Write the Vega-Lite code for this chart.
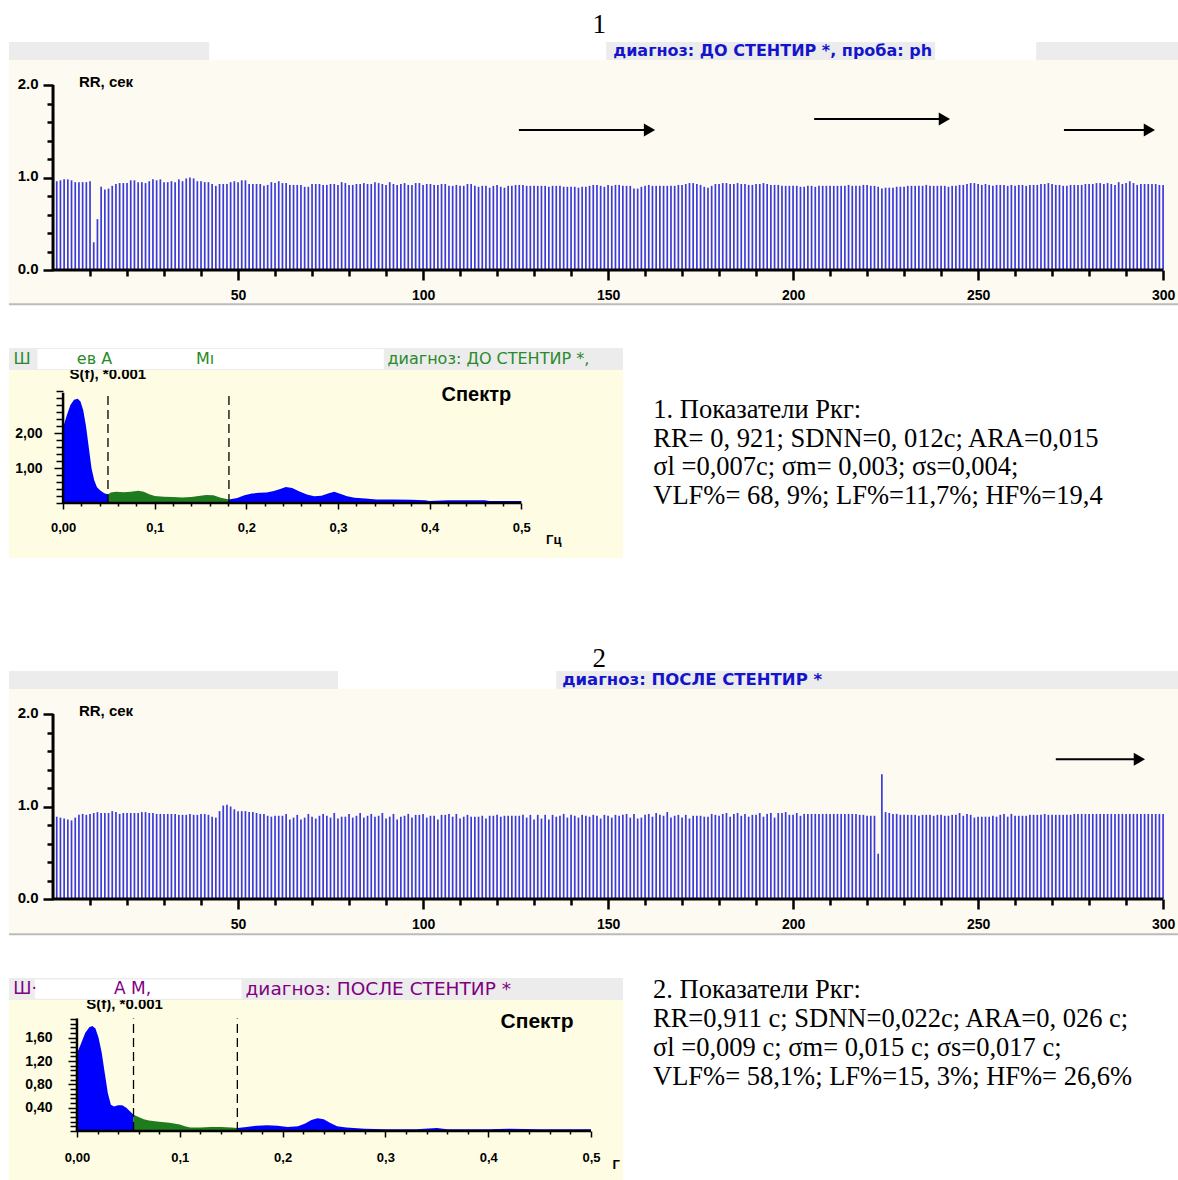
{
"$schema":"https://vega.github.io/schema/vega-lite/v6.json",
"padding":{"left":8,"top":0,"right":0,"bottom":0},
"background":"white",
"config":{"view":{"stroke":null},"font":"Liberation Sans","axis":{"labelOverlap":false,"zindex":1,"title":null,"grid":false,"domain":false,"tickColor":"black","labelColor":"black","labelFont":"Liberation Sans","labelFontWeight":"bold"}},
"datasets":{
"one":[{}],
"rr1":[{"i":1,"v":0.96},{"i":2,"v":0.97},{"i":3,"v":0.98},{"i":4,"v":0.98},{"i":5,"v":0.97},{"i":6,"v":0.95},{"i":7,"v":0.95},{"i":8,"v":0.95},{"i":9,"v":0.95},{"i":10,"v":0.96},
{"i":11,"v":0.30},{"i":12,"v":0.55},{"i":13,"v":0.90},{"i":14,"v":0.87},{"i":15,"v":0.88},{"i":16,"v":0.91},{"i":17,"v":0.93},{"i":18,"v":0.94},{"i":19,"v":0.94},{"i":20,"v":0.94},
{"i":21,"v":0.97},{"i":22,"v":0.97},{"i":23,"v":0.95},{"i":24,"v":0.95},{"i":25,"v":0.94},{"i":26,"v":0.96},{"i":27,"v":0.98},{"i":28,"v":0.97},{"i":29,"v":0.98},{"i":30,"v":0.95},
{"i":31,"v":0.95},{"i":32,"v":0.96},{"i":33,"v":0.95},{"i":34,"v":0.98},{"i":35,"v":0.96},{"i":36,"v":0.99},{"i":37,"v":1.00},{"i":38,"v":0.99},{"i":39,"v":0.96},{"i":40,"v":0.96},
{"i":41,"v":0.95},{"i":42,"v":0.95},{"i":43,"v":0.93},{"i":44,"v":0.91},{"i":45,"v":0.93},{"i":46,"v":0.93},{"i":47,"v":0.93},{"i":48,"v":0.95},{"i":49,"v":0.96},{"i":50,"v":0.95},
{"i":51,"v":0.97},{"i":52,"v":0.97},{"i":53,"v":0.93},{"i":54,"v":0.93},{"i":55,"v":0.93},{"i":56,"v":0.93},{"i":57,"v":0.91},{"i":58,"v":0.92},{"i":59,"v":0.95},{"i":60,"v":0.94},
{"i":61,"v":0.96},{"i":62,"v":0.94},{"i":63,"v":0.94},{"i":64,"v":0.92},{"i":65,"v":0.92},{"i":66,"v":0.92},{"i":67,"v":0.92},{"i":68,"v":0.90},{"i":69,"v":0.90},{"i":70,"v":0.93},
{"i":71,"v":0.93},{"i":72,"v":0.93},{"i":73,"v":0.92},{"i":74,"v":0.92},{"i":75,"v":0.93},{"i":76,"v":0.93},{"i":77,"v":0.92},{"i":78,"v":0.95},{"i":79,"v":0.94},{"i":80,"v":0.92},
{"i":81,"v":0.92},{"i":82,"v":0.93},{"i":83,"v":0.93},{"i":84,"v":0.94},{"i":85,"v":0.93},{"i":86,"v":0.93},{"i":87,"v":0.95},{"i":88,"v":0.94},{"i":89,"v":0.93},{"i":90,"v":0.92},
{"i":91,"v":0.95},{"i":92,"v":0.93},{"i":93,"v":0.92},{"i":94,"v":0.93},{"i":95,"v":0.94},{"i":96,"v":0.92},{"i":97,"v":0.92},{"i":98,"v":0.94},{"i":99,"v":0.94},{"i":100,"v":0.92},
{"i":101,"v":0.93},{"i":102,"v":0.93},{"i":103,"v":0.92},{"i":104,"v":0.92},{"i":105,"v":0.93},{"i":106,"v":0.93},{"i":107,"v":0.91},{"i":108,"v":0.91},{"i":109,"v":0.92},{"i":110,"v":0.91},
{"i":111,"v":0.91},{"i":112,"v":0.93},{"i":113,"v":0.93},{"i":114,"v":0.91},{"i":115,"v":0.90},{"i":116,"v":0.91},{"i":117,"v":0.91},{"i":118,"v":0.89},{"i":119,"v":0.91},{"i":120,"v":0.92},
{"i":121,"v":0.90},{"i":122,"v":0.89},{"i":123,"v":0.91},{"i":124,"v":0.91},{"i":125,"v":0.92},{"i":126,"v":0.92},{"i":127,"v":0.92},{"i":128,"v":0.91},{"i":129,"v":0.91},{"i":130,"v":0.91},
{"i":131,"v":0.91},{"i":132,"v":0.91},{"i":133,"v":0.91},{"i":134,"v":0.90},{"i":135,"v":0.91},{"i":136,"v":0.91},{"i":137,"v":0.91},{"i":138,"v":0.90},{"i":139,"v":0.90},{"i":140,"v":0.90},
{"i":141,"v":0.90},{"i":142,"v":0.89},{"i":143,"v":0.90},{"i":144,"v":0.90},{"i":145,"v":0.91},{"i":146,"v":0.92},{"i":147,"v":0.92},{"i":148,"v":0.91},{"i":149,"v":0.90},{"i":150,"v":0.92},
{"i":151,"v":0.91},{"i":152,"v":0.92},{"i":153,"v":0.92},{"i":154,"v":0.91},{"i":155,"v":0.91},{"i":156,"v":0.91},{"i":157,"v":0.88},{"i":158,"v":0.88},{"i":159,"v":0.90},{"i":160,"v":0.91},
{"i":161,"v":0.92},{"i":162,"v":0.91},{"i":163,"v":0.91},{"i":164,"v":0.91},{"i":165,"v":0.91},{"i":166,"v":0.91},{"i":167,"v":0.91},{"i":168,"v":0.91},{"i":169,"v":0.92},{"i":170,"v":0.92},
{"i":171,"v":0.93},{"i":172,"v":0.94},{"i":173,"v":0.94},{"i":174,"v":0.93},{"i":175,"v":0.92},{"i":176,"v":0.90},{"i":177,"v":0.89},{"i":178,"v":0.91},{"i":179,"v":0.93},{"i":180,"v":0.93},
{"i":181,"v":0.94},{"i":182,"v":0.94},{"i":183,"v":0.93},{"i":184,"v":0.93},{"i":185,"v":0.94},{"i":186,"v":0.93},{"i":187,"v":0.93},{"i":188,"v":0.92},{"i":189,"v":0.92},{"i":190,"v":0.93},
{"i":191,"v":0.93},{"i":192,"v":0.94},{"i":193,"v":0.93},{"i":194,"v":0.92},{"i":195,"v":0.92},{"i":196,"v":0.92},{"i":197,"v":0.91},{"i":198,"v":0.91},{"i":199,"v":0.91},{"i":200,"v":0.91},
{"i":201,"v":0.91},{"i":202,"v":0.90},{"i":203,"v":0.90},{"i":204,"v":0.91},{"i":205,"v":0.91},{"i":206,"v":0.90},{"i":207,"v":0.91},{"i":208,"v":0.91},{"i":209,"v":0.91},{"i":210,"v":0.91},
{"i":211,"v":0.91},{"i":212,"v":0.91},{"i":213,"v":0.91},{"i":214,"v":0.91},{"i":215,"v":0.92},{"i":216,"v":0.91},{"i":217,"v":0.91},{"i":218,"v":0.91},{"i":219,"v":0.92},{"i":220,"v":0.92},
{"i":221,"v":0.91},{"i":222,"v":0.91},{"i":223,"v":0.90},{"i":224,"v":0.88},{"i":225,"v":0.89},{"i":226,"v":0.89},{"i":227,"v":0.89},{"i":228,"v":0.90},{"i":229,"v":0.90},{"i":230,"v":0.90},
{"i":231,"v":0.91},{"i":232,"v":0.91},{"i":233,"v":0.91},{"i":234,"v":0.91},{"i":235,"v":0.91},{"i":236,"v":0.92},{"i":237,"v":0.91},{"i":238,"v":0.91},{"i":239,"v":0.91},{"i":240,"v":0.91},
{"i":241,"v":0.91},{"i":242,"v":0.90},{"i":243,"v":0.91},{"i":244,"v":0.91},{"i":245,"v":0.92},{"i":246,"v":0.92},{"i":247,"v":0.93},{"i":248,"v":0.94},{"i":249,"v":0.94},{"i":250,"v":0.93},
{"i":251,"v":0.92},{"i":252,"v":0.93},{"i":253,"v":0.92},{"i":254,"v":0.91},{"i":255,"v":0.92},{"i":256,"v":0.92},{"i":257,"v":0.92},{"i":258,"v":0.91},{"i":259,"v":0.92},{"i":260,"v":0.91},
{"i":261,"v":0.92},{"i":262,"v":0.92},{"i":263,"v":0.91},{"i":264,"v":0.92},{"i":265,"v":0.92},{"i":266,"v":0.92},{"i":267,"v":0.93},{"i":268,"v":0.93},{"i":269,"v":0.94},{"i":270,"v":0.93},
{"i":271,"v":0.92},{"i":272,"v":0.92},{"i":273,"v":0.91},{"i":274,"v":0.91},{"i":275,"v":0.92},{"i":276,"v":0.92},{"i":277,"v":0.92},{"i":278,"v":0.92},{"i":279,"v":0.93},{"i":280,"v":0.93},
{"i":281,"v":0.93},{"i":282,"v":0.94},{"i":283,"v":0.94},{"i":284,"v":0.93},{"i":285,"v":0.94},{"i":286,"v":0.93},{"i":287,"v":0.92},{"i":288,"v":0.95},{"i":289,"v":0.93},{"i":290,"v":0.94},
{"i":291,"v":0.96},{"i":292,"v":0.94},{"i":293,"v":0.92},{"i":294,"v":0.93},{"i":295,"v":0.93},{"i":296,"v":0.93},{"i":297,"v":0.93},{"i":298,"v":0.93},{"i":299,"v":0.92},{"i":300,"v":0.92}],
"rr2":[{"i":1,"v":0.89},{"i":2,"v":0.88},{"i":3,"v":0.87},{"i":4,"v":0.86},{"i":5,"v":0.85},{"i":6,"v":0.88},{"i":7,"v":0.91},{"i":8,"v":0.92},{"i":9,"v":0.91},{"i":10,"v":0.92},
{"i":11,"v":0.93},{"i":12,"v":0.94},{"i":13,"v":0.93},{"i":14,"v":0.93},{"i":15,"v":0.93},{"i":16,"v":0.95},{"i":17,"v":0.94},{"i":18,"v":0.92},{"i":19,"v":0.93},{"i":20,"v":0.93},
{"i":21,"v":0.93},{"i":22,"v":0.93},{"i":23,"v":0.93},{"i":24,"v":0.94},{"i":25,"v":0.94},{"i":26,"v":0.93},{"i":27,"v":0.93},{"i":28,"v":0.92},{"i":29,"v":0.92},{"i":30,"v":0.92},
{"i":31,"v":0.92},{"i":32,"v":0.92},{"i":33,"v":0.92},{"i":34,"v":0.91},{"i":35,"v":0.91},{"i":36,"v":0.91},{"i":37,"v":0.92},{"i":38,"v":0.91},{"i":39,"v":0.91},{"i":40,"v":0.92},
{"i":41,"v":0.92},{"i":42,"v":0.91},{"i":43,"v":0.89},{"i":44,"v":0.88},{"i":45,"v":0.95},{"i":46,"v":1.01},{"i":47,"v":1.02},{"i":48,"v":1.00},{"i":49,"v":0.97},{"i":50,"v":0.95},
{"i":51,"v":0.95},{"i":52,"v":0.95},{"i":53,"v":0.94},{"i":54,"v":0.94},{"i":55,"v":0.93},{"i":56,"v":0.92},{"i":57,"v":0.92},{"i":58,"v":0.90},{"i":59,"v":0.89},{"i":60,"v":0.90},
{"i":61,"v":0.90},{"i":62,"v":0.90},{"i":63,"v":0.92},{"i":64,"v":0.86},{"i":65,"v":0.88},{"i":66,"v":0.91},{"i":67,"v":0.86},{"i":68,"v":0.88},{"i":69,"v":0.92},{"i":70,"v":0.89},
{"i":71,"v":0.87},{"i":72,"v":0.90},{"i":73,"v":0.92},{"i":74,"v":0.90},{"i":75,"v":0.88},{"i":76,"v":0.93},{"i":77,"v":0.87},{"i":78,"v":0.89},{"i":79,"v":0.89},{"i":80,"v":0.92},
{"i":81,"v":0.88},{"i":82,"v":0.90},{"i":83,"v":0.93},{"i":84,"v":0.88},{"i":85,"v":0.90},{"i":86,"v":0.92},{"i":87,"v":0.89},{"i":88,"v":0.90},{"i":89,"v":0.93},{"i":90,"v":0.87},
{"i":91,"v":0.89},{"i":92,"v":0.92},{"i":93,"v":0.86},{"i":94,"v":0.89},{"i":95,"v":0.90},{"i":96,"v":0.92},{"i":97,"v":0.88},{"i":98,"v":0.91},{"i":99,"v":0.91},{"i":100,"v":0.92},
{"i":101,"v":0.88},{"i":102,"v":0.90},{"i":103,"v":0.90},{"i":104,"v":0.86},{"i":105,"v":0.91},{"i":106,"v":0.91},{"i":107,"v":0.92},{"i":108,"v":0.89},{"i":109,"v":0.92},{"i":110,"v":0.87},
{"i":111,"v":0.89},{"i":112,"v":0.91},{"i":113,"v":0.89},{"i":114,"v":0.89},{"i":115,"v":0.89},{"i":116,"v":0.90},{"i":117,"v":0.87},{"i":118,"v":0.90},{"i":119,"v":0.90},{"i":120,"v":0.91},
{"i":121,"v":0.89},{"i":122,"v":0.90},{"i":123,"v":0.90},{"i":124,"v":0.90},{"i":125,"v":0.90},{"i":126,"v":0.90},{"i":127,"v":0.91},{"i":128,"v":0.88},{"i":129,"v":0.91},{"i":130,"v":0.86},
{"i":131,"v":0.91},{"i":132,"v":0.87},{"i":133,"v":0.91},{"i":134,"v":0.86},{"i":135,"v":0.91},{"i":136,"v":0.89},{"i":137,"v":0.90},{"i":138,"v":0.92},{"i":139,"v":0.88},{"i":140,"v":0.91},
{"i":141,"v":0.90},{"i":142,"v":0.88},{"i":143,"v":0.91},{"i":144,"v":0.90},{"i":145,"v":0.89},{"i":146,"v":0.91},{"i":147,"v":0.90},{"i":148,"v":0.87},{"i":149,"v":0.91},{"i":150,"v":0.90},
{"i":151,"v":0.88},{"i":152,"v":0.91},{"i":153,"v":0.90},{"i":154,"v":0.91},{"i":155,"v":0.92},{"i":156,"v":0.88},{"i":157,"v":0.92},{"i":158,"v":0.87},{"i":159,"v":0.88},{"i":160,"v":0.91},
{"i":161,"v":0.92},{"i":162,"v":0.89},{"i":163,"v":0.93},{"i":164,"v":0.91},{"i":165,"v":0.90},{"i":166,"v":0.94},{"i":167,"v":0.88},{"i":168,"v":0.90},{"i":169,"v":0.91},{"i":170,"v":0.88},
{"i":171,"v":0.91},{"i":172,"v":0.87},{"i":173,"v":0.90},{"i":174,"v":0.90},{"i":175,"v":0.90},{"i":176,"v":0.89},{"i":177,"v":0.89},{"i":178,"v":0.92},{"i":179,"v":0.91},{"i":180,"v":0.90},
{"i":181,"v":0.92},{"i":182,"v":0.93},{"i":183,"v":0.89},{"i":184,"v":0.92},{"i":185,"v":0.93},{"i":186,"v":0.90},{"i":187,"v":0.92},{"i":188,"v":0.89},{"i":189,"v":0.91},{"i":190,"v":0.91},
{"i":191,"v":0.93},{"i":192,"v":0.89},{"i":193,"v":0.92},{"i":194,"v":0.93},{"i":195,"v":0.88},{"i":196,"v":0.93},{"i":197,"v":0.93},{"i":198,"v":0.94},{"i":199,"v":0.91},{"i":200,"v":0.91},
{"i":201,"v":0.93},{"i":202,"v":0.90},{"i":203,"v":0.92},{"i":204,"v":0.92},{"i":205,"v":0.92},{"i":206,"v":0.92},{"i":207,"v":0.92},{"i":208,"v":0.92},{"i":209,"v":0.92},{"i":210,"v":0.92},
{"i":211,"v":0.92},{"i":212,"v":0.92},{"i":213,"v":0.92},{"i":214,"v":0.92},{"i":215,"v":0.92},{"i":216,"v":0.92},{"i":217,"v":0.92},{"i":218,"v":0.91},{"i":219,"v":0.91},{"i":220,"v":0.90},
{"i":221,"v":0.90},{"i":222,"v":0.90},{"i":223,"v":0.49},{"i":224,"v":1.35},{"i":225,"v":0.94},{"i":226,"v":0.93},{"i":227,"v":0.92},{"i":228,"v":0.92},{"i":229,"v":0.91},{"i":230,"v":0.91},
{"i":231,"v":0.91},{"i":232,"v":0.91},{"i":233,"v":0.91},{"i":234,"v":0.90},{"i":235,"v":0.91},{"i":236,"v":0.91},{"i":237,"v":0.91},{"i":238,"v":0.90},{"i":239,"v":0.91},{"i":240,"v":0.91},
{"i":241,"v":0.90},{"i":242,"v":0.90},{"i":243,"v":0.91},{"i":244,"v":0.91},{"i":245,"v":0.93},{"i":246,"v":0.90},{"i":247,"v":0.92},{"i":248,"v":0.91},{"i":249,"v":0.88},{"i":250,"v":0.89},
{"i":251,"v":0.89},{"i":252,"v":0.89},{"i":253,"v":0.89},{"i":254,"v":0.90},{"i":255,"v":0.89},{"i":256,"v":0.91},{"i":257,"v":0.92},{"i":258,"v":0.89},{"i":259,"v":0.92},{"i":260,"v":0.90},
{"i":261,"v":0.90},{"i":262,"v":0.90},{"i":263,"v":0.90},{"i":264,"v":0.91},{"i":265,"v":0.91},{"i":266,"v":0.91},{"i":267,"v":0.91},{"i":268,"v":0.92},{"i":269,"v":0.91},{"i":270,"v":0.91},
{"i":271,"v":0.91},{"i":272,"v":0.91},{"i":273,"v":0.91},{"i":274,"v":0.91},{"i":275,"v":0.91},{"i":276,"v":0.92},{"i":277,"v":0.92},{"i":278,"v":0.92},{"i":279,"v":0.92},{"i":280,"v":0.92},
{"i":281,"v":0.92},{"i":282,"v":0.92},{"i":283,"v":0.92},{"i":284,"v":0.92},{"i":285,"v":0.92},{"i":286,"v":0.92},{"i":287,"v":0.92},{"i":288,"v":0.92},{"i":289,"v":0.92},{"i":290,"v":0.92},
{"i":291,"v":0.92},{"i":292,"v":0.92},{"i":293,"v":0.92},{"i":294,"v":0.92},{"i":295,"v":0.92},{"i":296,"v":0.92},{"i":297,"v":0.92},{"i":298,"v":0.92},{"i":299,"v":0.92},{"i":300,"v":0.92}],
"sp1":[{"f":0,"s":2.15,"b":"VLF"},{"f":0.004,"s":2.5,"b":"VLF"},{"f":0.008,"s":2.8,"b":"VLF"},{"f":0.012,"s":2.95,"b":"VLF"},{"f":0.016,"s":2.98,"b":"VLF"},{"f":0.019,"s":2.9,"b":"VLF"},{"f":0.022,"s":2.65,"b":"VLF"},{"f":0.025,"s":2.2,"b":"VLF"},{"f":0.028,"s":1.6,"b":"VLF"},{"f":0.031,"s":1.0,"b":"VLF"},{"f":0.034,"s":0.65,"b":"VLF"},{"f":0.037,"s":0.45,"b":"VLF"},{"f":0.041,"s":0.35,"b":"VLF"},{"f":0.045,"s":0.28,"b":"VLF"},{"f":0.049,"s":0.24,"b":"VLF"},
{"f":0.049,"s":0.24,"b":"LF"},{"f":0.052,"s":0.3,"b":"LF"},{"f":0.058,"s":0.32,"b":"LF"},{"f":0.066,"s":0.31,"b":"LF"},{"f":0.074,"s":0.32,"b":"LF"},{"f":0.082,"s":0.35,"b":"LF"},{"f":0.088,"s":0.32,"b":"LF"},{"f":0.094,"s":0.25,"b":"LF"},{"f":0.1,"s":0.2,"b":"LF"},{"f":0.11,"s":0.18,"b":"LF"},{"f":0.12,"s":0.17,"b":"LF"},{"f":0.13,"s":0.16,"b":"LF"},{"f":0.14,"s":0.17,"b":"LF"},{"f":0.148,"s":0.2,"b":"LF"},{"f":0.156,"s":0.23,"b":"LF"},{"f":0.164,"s":0.22,"b":"LF"},{"f":0.172,"s":0.15,"b":"LF"},{"f":0.181,"s":0.1,"b":"LF"},
{"f":0.181,"s":0.1,"b":"HF"},{"f":0.19,"s":0.14,"b":"HF"},{"f":0.198,"s":0.22,"b":"HF"},{"f":0.206,"s":0.27,"b":"HF"},{"f":0.214,"s":0.29,"b":"HF"},{"f":0.222,"s":0.3,"b":"HF"},{"f":0.23,"s":0.34,"b":"HF"},{"f":0.237,"s":0.4,"b":"HF"},{"f":0.243,"s":0.46,"b":"HF"},{"f":0.25,"s":0.43,"b":"HF"},{"f":0.258,"s":0.33,"b":"HF"},{"f":0.266,"s":0.24,"b":"HF"},{"f":0.274,"s":0.19,"b":"HF"},{"f":0.282,"s":0.21,"b":"HF"},{"f":0.29,"s":0.28,"b":"HF"},{"f":0.296,"s":0.32,"b":"HF"},{"f":0.303,"s":0.26,"b":"HF"},{"f":0.31,"s":0.19,"b":"HF"},{"f":0.318,"s":0.15,"b":"HF"},{"f":0.33,"s":0.13,"b":"HF"},{"f":0.342,"s":0.1,"b":"HF"},{"f":0.36,"s":0.1,"b":"HF"},{"f":0.38,"s":0.09,"b":"HF"},{"f":0.395,"s":0.08,"b":"HF"},{"f":0.4,"s":0.06,"b":"HF"},{"f":0.42,"s":0.08,"b":"HF"},{"f":0.44,"s":0.08,"b":"HF"},{"f":0.46,"s":0.08,"b":"HF"},{"f":0.465,"s":0.06,"b":"HF"},{"f":0.5,"s":0.06,"b":"HF"}],
"sp2":[{"f":0,"s":1.33,"b":"VLF"},{"f":0.004,"s":1.5,"b":"VLF"},{"f":0.008,"s":1.68,"b":"VLF"},{"f":0.012,"s":1.78,"b":"VLF"},{"f":0.015,"s":1.8,"b":"VLF"},{"f":0.018,"s":1.76,"b":"VLF"},{"f":0.021,"s":1.6,"b":"VLF"},{"f":0.024,"s":1.35,"b":"VLF"},{"f":0.027,"s":1.0,"b":"VLF"},{"f":0.03,"s":0.65,"b":"VLF"},{"f":0.033,"s":0.45,"b":"VLF"},{"f":0.036,"s":0.42,"b":"VLF"},{"f":0.04,"s":0.44,"b":"VLF"},{"f":0.044,"s":0.44,"b":"VLF"},{"f":0.048,"s":0.4,"b":"VLF"},{"f":0.052,"s":0.33,"b":"VLF"},{"f":0.055,"s":0.28,"b":"VLF"},
{"f":0.055,"s":0.28,"b":"LF"},{"f":0.06,"s":0.24,"b":"LF"},{"f":0.065,"s":0.2,"b":"LF"},{"f":0.07,"s":0.18,"b":"LF"},{"f":0.08,"s":0.16,"b":"LF"},{"f":0.09,"s":0.14,"b":"LF"},{"f":0.1,"s":0.11,"b":"LF"},{"f":0.105,"s":0.08,"b":"LF"},{"f":0.11,"s":0.06,"b":"LF"},{"f":0.12,"s":0.06,"b":"LF"},{"f":0.13,"s":0.07,"b":"LF"},{"f":0.14,"s":0.07,"b":"LF"},{"f":0.15,"s":0.06,"b":"LF"},{"f":0.156,"s":0.05,"b":"LF"},
{"f":0.156,"s":0.05,"b":"HF"},{"f":0.165,"s":0.07,"b":"HF"},{"f":0.175,"s":0.09,"b":"HF"},{"f":0.185,"s":0.1,"b":"HF"},{"f":0.195,"s":0.09,"b":"HF"},{"f":0.205,"s":0.07,"b":"HF"},{"f":0.215,"s":0.08,"b":"HF"},{"f":0.222,"s":0.13,"b":"HF"},{"f":0.228,"s":0.19,"b":"HF"},{"f":0.234,"s":0.22,"b":"HF"},{"f":0.24,"s":0.2,"b":"HF"},{"f":0.246,"s":0.14,"b":"HF"},{"f":0.253,"s":0.08,"b":"HF"},{"f":0.262,"s":0.06,"b":"HF"},{"f":0.28,"s":0.04,"b":"HF"},{"f":0.3,"s":0.03,"b":"HF"},{"f":0.33,"s":0.03,"b":"HF"},{"f":0.35,"s":0.05,"b":"HF"},{"f":0.36,"s":0.03,"b":"HF"},{"f":0.4,"s":0.03,"b":"HF"},{"f":0.42,"s":0.04,"b":"HF"},{"f":0.45,"s":0.03,"b":"HF"},{"f":0.47,"s":0.03,"b":"HF"},{"f":0.5,"s":0.03,"b":"HF"}],
"arr1":[{"a":125.9,"h":161.2,"y":1.513},{"a":205.7,"h":240.9,"y":1.632},{"a":273.2,"h":296.3,"y":1.513}],
"arr2":[{"a":271,"h":293.6,"y":1.51}]
},
"vconcat":[
 {"width":1170,"height":305,"data":{"name":"one"},
  "resolve":{"axis":{"x":"independent","y":"independent"}},
  "layer":[
   {"data":{"name":"rr1"},"mark":{"type":"rule","color":"#3B3BDB","strokeWidth":1.7},
    "encoding":{
     "x":{"field":"i","type":"quantitative","scale":{"domain":[-11.9,304.3],"nice":false,"zero":false},"axis":{"orient":"bottom","offset":-35,"zindex":2,"values":[50,100,150,200,250,300],"labelFontSize":14,"labelPadding":8,"tickWidth":2.5,"tickSize":10,"labelFlush":false}},
     "y":{"field":"v","type":"quantitative","scale":{"domain":[-0.378,2.919],"nice":false,"zero":false},"axis":{"orient":"left","offset":-44,"zindex":2,"values":[0,1,2],"format":".1f","labelFontSize":15,"labelPadding":5,"labelOffset":-2,"tickWidth":2.5,"tickSize":10}},
     "y2":{"datum":0}}},
   {"mark":{"type":"rect","color":"#FDFAF1"},"encoding":{"x":{"datum":-11.9,"type":"quantitative","axis":null},"x2":{"datum":304.3},"y":{"datum":-0.378,"type":"quantitative","axis":null},"y2":{"datum":2.27}}},
   {"data":{"name":"rr1"},"mark":{"type":"rule","color":"#3B3BDB","strokeWidth":1.7},"encoding":{"x":{"field":"i","type":"quantitative","axis":null},"y":{"field":"v","type":"quantitative","axis":null},"y2":{"datum":0}}},
   {"mark":{"type":"rect","color":"#ECECEC"},"encoding":{"x":{"datum":-11.9,"type":"quantitative","axis":null},"x2":{"datum":304.3},"y":{"datum":2.27,"type":"quantitative","axis":null},"y2":{"datum":2.465}}},
   {"mark":{"type":"rect","color":"#FFFFFF"},"encoding":{"x":{"datum":42.2,"type":"quantitative","axis":null},"x2":{"datum":149.5},"y":{"datum":2.27,"type":"quantitative","axis":null},"y2":{"datum":2.465}}},
   {"mark":{"type":"rect","color":"#FFFFFF"},"encoding":{"x":{"datum":238.4,"type":"quantitative","axis":null},"x2":{"datum":265.7},"y":{"datum":2.27,"type":"quantitative","axis":null},"y2":{"datum":2.465}}},
   {"mark":{"type":"text","text":"1","align":"center","baseline":"alphabetic","font":"Liberation Serif","fontSize":27,"color":"black"},"encoding":{"x":{"datum":147.6,"type":"quantitative","axis":null},"y":{"datum":2.562,"type":"quantitative","axis":null}}},
   {"mark":{"type":"text","text":"диагноз: ДО СТЕНТИР *, проба: ph","align":"left","baseline":"middle","font":"DejaVu Sans","fontWeight":"bold","fontSize":16,"color":"#1414CC"},"encoding":{"x":{"datum":151.4,"type":"quantitative","axis":null},"y":{"datum":2.368,"type":"quantitative","axis":null}}},
   {"mark":{"type":"rule","color":"black","strokeWidth":3},"encoding":{"x":{"datum":0,"type":"quantitative","axis":{"orient":"bottom","offset":-35,"zindex":2,"values":[10,20,30,40,60,70,80,90,110,120,130,140,160,170,180,190,210,220,230,240,260,270,280,290],"labels":false,"tickWidth":2.5,"tickSize":6}},"x2":{"datum":300},"y":{"datum":0,"type":"quantitative","axis":null}}},
   {"mark":{"type":"rule","color":"black","strokeWidth":3},"encoding":{"x":{"datum":0,"type":"quantitative","axis":null},"y":{"datum":0,"type":"quantitative","axis":{"orient":"left","offset":-44,"zindex":2,"values":[0.2,0.4,0.6,0.8,1.2,1.4,1.6,1.8],"labels":false,"tickWidth":2.5,"tickSize":6}},"y2":{"datum":2}}},
   {"mark":{"type":"rule","color":"#BBBBBB","strokeWidth":2},"encoding":{"x":{"datum":-11.9,"type":"quantitative","axis":null},"x2":{"datum":304.3},"y":{"datum":-0.37,"type":"quantitative","axis":null}}},
   {"mark":{"type":"text","text":"RR, сек","align":"left","baseline":"middle","font":"Liberation Sans","fontWeight":"bold","fontSize":15,"color":"black"},"encoding":{"x":{"datum":7,"type":"quantitative","axis":null},"y":{"datum":2.03,"type":"quantitative","axis":null}}},
   {"data":{"name":"arr1"},"mark":{"type":"rule","color":"black","strokeWidth":2},"encoding":{"x":{"field":"a","type":"quantitative","axis":null},"x2":{"field":"h"},"y":{"field":"y","type":"quantitative","axis":null}}},
   {"data":{"name":"arr1"},"mark":{"type":"point","shape":"triangle-right","filled":true,"color":"black","opacity":1,"size":170},"encoding":{"x":{"field":"h","type":"quantitative","axis":null},"y":{"field":"y","type":"quantitative","axis":null}}}
  ]},
 {"width":614,"height":210,"data":{"name":"one"},"view":{"fill":"#FEFDE3","stroke":null},
  "resolve":{"axis":{"x":"independent","y":"independent"}},
  "layer":[
   {"data":{"name":"sp1"},"mark":{"type":"area","interpolate":"linear"},
    "encoding":{
     "x":{"field":"f","type":"quantitative","scale":{"domain":[-0.059,0.611],"nice":false,"zero":false},
      "axis":{"orient":"bottom","offset":-55,"zindex":2,"values":[0,0.1,0.2,0.3,0.4,0.5],"labelExpr":"datum.value === 0 ? '0,00' : replace(format(datum.value, '.1f'), '.', ',')","labelFontSize":13,"labelPadding":12,"tickWidth":1.5,"tickSize":6,"labelFlush":false}},
     "y":{"field":"s","type":"quantitative","stack":null,"scale":{"domain":[-1.571,4.429],"nice":false,"zero":false},
      "axis":{"orient":"left","offset":-54,"zindex":2,"values":[1,2],"labelExpr":"replace(format(datum.value, '.2f'), '.', ',')","labelFontSize":14,"labelPadding":12,"tickWidth":1.5,"tickSize":9}},
     "y2":{"datum":0},
     "color":{"field":"b","type":"nominal","scale":{"domain":["VLF","LF","HF"],"range":["#0000FF","#1E7B1E","#0000FF"]},"legend":null},
     "detail":{"field":"b"}}},
   {"mark":{"type":"rule","color":"black","strokeWidth":1.3,"strokeDash":[9,5]},"encoding":{"x":{"datum":0.049,"type":"quantitative","axis":null},"y":{"datum":0,"type":"quantitative","axis":null},"y2":{"datum":3.17}}},
   {"mark":{"type":"rule","color":"black","strokeWidth":1.3,"strokeDash":[9,5]},"encoding":{"x":{"datum":0.181,"type":"quantitative","axis":null},"y":{"datum":0,"type":"quantitative","axis":null},"y2":{"datum":3.17}}},
   {"mark":{"type":"rule","color":"black","strokeWidth":2.5},"encoding":{"x":{"datum":0,"type":"quantitative","axis":{"orient":"bottom","offset":-55,"zindex":2,"values":[0.02,0.04,0.06,0.08,0.12,0.14,0.16,0.18,0.22,0.24,0.26,0.28,0.32,0.34,0.36,0.38,0.42,0.44,0.46,0.48],"labels":false,"tickWidth":1.5,"tickSize":3}},"x2":{"datum":0.5},"y":{"datum":0,"type":"quantitative","axis":null}}},
   {"mark":{"type":"rule","color":"black","strokeWidth":2.5},"encoding":{"x":{"datum":0,"type":"quantitative","axis":null},"y":{"datum":0,"type":"quantitative","axis":{"orient":"left","offset":-54,"zindex":2,"values":[0,0.2,0.4,0.6,0.8,1.2,1.4,1.6,1.8,2.2,2.4,2.6,2.8,3,3.2],"labels":false,"tickWidth":1.5,"tickSize":7}},"y2":{"datum":3.15}}},
   {"mark":{"type":"text","text":"S(f), *0.001","align":"left","baseline":"alphabetic","font":"Liberation Sans","fontWeight":"bold","fontSize":15,"color":"black"},"encoding":{"x":{"datum":0.007,"type":"quantitative","axis":null},"y":{"datum":3.543,"type":"quantitative","axis":null}}},
   {"mark":{"type":"text","text":"Спектр","align":"left","baseline":"middle","font":"Liberation Sans","fontWeight":"bold","fontSize":20,"color":"black"},"encoding":{"x":{"datum":0.413,"type":"quantitative","axis":null},"y":{"datum":3.09,"type":"quantitative","axis":null}}},
   {"mark":{"type":"text","text":"Гц","align":"left","baseline":"middle","font":"Liberation Sans","fontWeight":"bold","fontSize":13,"color":"black"},"encoding":{"x":{"datum":0.527,"type":"quantitative","axis":null},"y":{"datum":-1.06,"type":"quantitative","axis":null}}},
   {"mark":{"type":"rect","color":"#ECECEC"},"encoding":{"x":{"datum":-0.059,"type":"quantitative","axis":null},"x2":{"datum":0.611},"y":{"datum":3.8,"type":"quantitative","axis":null},"y2":{"datum":4.429}}},
   {"mark":{"type":"rect","color":"#FFFFFF"},"encoding":{"x":{"datum":-0.028,"type":"quantitative","axis":null},"x2":{"datum":0.35},"y":{"datum":3.83,"type":"quantitative","axis":null},"y2":{"datum":4.4}}},
   {"mark":{"type":"text","text":"Ш","align":"left","baseline":"middle","font":"DejaVu Sans","fontSize":16,"color":"#2A8A2A"},"encoding":{"x":{"datum":-0.054,"type":"quantitative","axis":null},"y":{"datum":4.114,"type":"quantitative","axis":null}}},
   {"mark":{"type":"text","text":"ев А","align":"left","baseline":"middle","font":"DejaVu Sans","fontSize":16,"color":"#2A8A2A"},"encoding":{"x":{"datum":0.015,"type":"quantitative","axis":null},"y":{"datum":4.114,"type":"quantitative","axis":null}}},
   {"mark":{"type":"text","text":"Мı","align":"left","baseline":"middle","font":"DejaVu Sans","fontSize":16,"color":"#2A8A2A"},"encoding":{"x":{"datum":0.145,"type":"quantitative","axis":null},"y":{"datum":4.114,"type":"quantitative","axis":null}}},
   {"mark":{"type":"text","text":"диагноз: ДО СТЕНТИР *,","align":"left","baseline":"middle","font":"DejaVu Sans","fontSize":16,"color":"#2A8A2A"},"encoding":{"x":{"datum":0.354,"type":"quantitative","axis":null},"y":{"datum":4.114,"type":"quantitative","axis":null}}},
   {"mark":{"type":"text","text":["1. Показатели Ркг:","RR= 0, 921; SDNN=0, 012c; ARA=0,015","σl =0,007c; σm= 0,003; σs=0,004;","VLF%= 68, 9%; LF%=11,7%; HF%=19,4"],"lineHeight":28.5,"align":"left","baseline":"middle","font":"Liberation Serif","fontSize":26.5,"color":"black"},"encoding":{"x":{"datum":0.644,"type":"quantitative","axis":null},"y":{"datum":2.657,"type":"quantitative","axis":null}}}
  ]},
 {"width":1170,"height":334,"data":{"name":"one"},
  "resolve":{"axis":{"x":"independent","y":"independent"}},
  "layer":[
   {"data":{"name":"rr2"},"mark":{"type":"rule","color":"#3B3BDB","strokeWidth":1.7},
    "encoding":{
     "x":{"field":"i","type":"quantitative","scale":{"domain":[-11.9,304.3],"nice":false,"zero":false},"axis":{"orient":"bottom","offset":-36,"zindex":2,"values":[50,100,150,200,250,300],"labelFontSize":14,"labelPadding":8,"tickWidth":2.5,"tickSize":10,"labelFlush":false}},
     "y":{"field":"v","type":"quantitative","scale":{"domain":[-0.389,3.222],"nice":false,"zero":false},"axis":{"orient":"left","offset":-44,"zindex":2,"values":[0,1,2],"format":".1f","labelFontSize":15,"labelPadding":5,"labelOffset":-2,"tickWidth":2.5,"tickSize":10}},
     "y2":{"datum":0}}},
   {"mark":{"type":"rect","color":"#FDFAF1"},"encoding":{"x":{"datum":-11.9,"type":"quantitative","axis":null},"x2":{"datum":304.3},"y":{"datum":-0.389,"type":"quantitative","axis":null},"y2":{"datum":2.27}}},
   {"data":{"name":"rr2"},"mark":{"type":"rule","color":"#3B3BDB","strokeWidth":1.7},"encoding":{"x":{"field":"i","type":"quantitative","axis":null},"y":{"field":"v","type":"quantitative","axis":null},"y2":{"datum":0}}},
   {"mark":{"type":"rect","color":"#ECECEC"},"encoding":{"x":{"datum":-11.9,"type":"quantitative","axis":null},"x2":{"datum":304.3},"y":{"datum":2.27,"type":"quantitative","axis":null},"y2":{"datum":2.465}}},
   {"mark":{"type":"rect","color":"#FFFFFF"},"encoding":{"x":{"datum":77,"type":"quantitative","axis":null},"x2":{"datum":136},"y":{"datum":2.27,"type":"quantitative","axis":null},"y2":{"datum":2.465}}},
   {"mark":{"type":"text","text":"2","align":"center","baseline":"alphabetic","font":"Liberation Serif","fontSize":27,"color":"black"},"encoding":{"x":{"datum":147.6,"type":"quantitative","axis":null},"y":{"datum":2.508,"type":"quantitative","axis":null}}},
   {"mark":{"type":"text","text":"диагноз: ПОСЛЕ СТЕНТИР *","align":"left","baseline":"middle","font":"DejaVu Sans","fontWeight":"bold","fontSize":16.5,"color":"#1414CC"},"encoding":{"x":{"datum":137.6,"type":"quantitative","axis":null},"y":{"datum":2.368,"type":"quantitative","axis":null}}},
   {"mark":{"type":"rule","color":"black","strokeWidth":3},"encoding":{"x":{"datum":0,"type":"quantitative","axis":{"orient":"bottom","offset":-36,"zindex":2,"values":[10,20,30,40,60,70,80,90,110,120,130,140,160,170,180,190,210,220,230,240,260,270,280,290],"labels":false,"tickWidth":2.5,"tickSize":6}},"x2":{"datum":300},"y":{"datum":0,"type":"quantitative","axis":null}}},
   {"mark":{"type":"rule","color":"black","strokeWidth":3},"encoding":{"x":{"datum":0,"type":"quantitative","axis":null},"y":{"datum":0,"type":"quantitative","axis":{"orient":"left","offset":-44,"zindex":2,"values":[0.2,0.4,0.6,0.8,1.2,1.4,1.6,1.8],"labels":false,"tickWidth":2.5,"tickSize":6}},"y2":{"datum":2}}},
   {"mark":{"type":"rule","color":"#BBBBBB","strokeWidth":2},"encoding":{"x":{"datum":-11.9,"type":"quantitative","axis":null},"x2":{"datum":304.3},"y":{"datum":-0.38,"type":"quantitative","axis":null}}},
   {"mark":{"type":"text","text":"RR, сек","align":"left","baseline":"middle","font":"Liberation Sans","fontWeight":"bold","fontSize":15,"color":"black"},"encoding":{"x":{"datum":7,"type":"quantitative","axis":null},"y":{"datum":2.03,"type":"quantitative","axis":null}}},
   {"data":{"name":"arr2"},"mark":{"type":"rule","color":"black","strokeWidth":2},"encoding":{"x":{"field":"a","type":"quantitative","axis":null},"x2":{"field":"h"},"y":{"field":"y","type":"quantitative","axis":null}}},
   {"data":{"name":"arr2"},"mark":{"type":"point","shape":"triangle-right","filled":true,"color":"black","opacity":1,"size":170},"encoding":{"x":{"field":"h","type":"quantitative","axis":null},"y":{"field":"y","type":"quantitative","axis":null}}}
  ]},
 {"width":614,"height":202,"data":{"name":"one"},"view":{"fill":"#FEFDE3","stroke":null},
  "resolve":{"axis":{"x":"independent","y":"independent"}},
  "layer":[
   {"data":{"name":"sp2"},"mark":{"type":"area","interpolate":"linear"},
    "encoding":{
     "x":{"field":"f","type":"quantitative","scale":{"domain":[-0.0661,0.5311],"nice":false,"zero":false},
      "axis":{"orient":"bottom","offset":-49,"zindex":2,"values":[0,0.1,0.2,0.3,0.4,0.5],"labelExpr":"datum.value === 0 ? '0,00' : replace(format(datum.value, '.1f'), '.', ',')","labelFontSize":13,"labelPadding":14,"tickWidth":1.5,"tickSize":6,"labelFlush":false}},
     "y":{"field":"s","type":"quantitative","stack":null,"scale":{"domain":[-0.84,2.624],"nice":false,"zero":false},
      "axis":{"orient":"left","offset":-68,"zindex":2,"values":[0.4,0.8,1.2,1.6],"labelExpr":"replace(format(datum.value, '.2f'), '.', ',')","labelFontSize":14,"labelPadding":16,"tickWidth":1.5,"tickSize":9}},
     "y2":{"datum":0},
     "color":{"field":"b","type":"nominal","scale":{"domain":["VLF","LF","HF"],"range":["#0000FF","#1E7B1E","#0000FF"]},"legend":null},
     "detail":{"field":"b"}}},
   {"mark":{"type":"rule","color":"black","strokeWidth":1.3,"strokeDash":[9,5]},"encoding":{"x":{"datum":0.055,"type":"quantitative","axis":null},"y":{"datum":0,"type":"quantitative","axis":null},"y2":{"datum":1.93}}},
   {"mark":{"type":"rule","color":"black","strokeWidth":1.3,"strokeDash":[9,5]},"encoding":{"x":{"datum":0.156,"type":"quantitative","axis":null},"y":{"datum":0,"type":"quantitative","axis":null},"y2":{"datum":1.93}}},
   {"mark":{"type":"rule","color":"black","strokeWidth":2.5},"encoding":{"x":{"datum":0,"type":"quantitative","axis":{"orient":"bottom","offset":-49,"zindex":2,"values":[0.02,0.04,0.06,0.08,0.12,0.14,0.16,0.18,0.22,0.24,0.26,0.28,0.32,0.34,0.36,0.38,0.42,0.44,0.46,0.48],"labels":false,"tickWidth":1.5,"tickSize":3}},"x2":{"datum":0.5},"y":{"datum":0,"type":"quantitative","axis":null}}},
   {"mark":{"type":"rule","color":"black","strokeWidth":2.5},"encoding":{"x":{"datum":0,"type":"quantitative","axis":null},"y":{"datum":0,"type":"quantitative","axis":{"orient":"left","offset":-68,"zindex":2,"values":[0,0.08,0.16,0.24,0.32,0.48,0.56,0.64,0.72,0.88,0.96,1.04,1.12,1.28,1.36,1.44,1.52,1.68,1.76,1.84,1.92],"labels":false,"tickWidth":1.5,"tickSize":7}},"y2":{"datum":1.93}}},
   {"mark":{"type":"text","text":"S(f), *0.001","align":"left","baseline":"alphabetic","font":"Liberation Sans","fontWeight":"bold","fontSize":15,"color":"black"},"encoding":{"x":{"datum":0.009,"type":"quantitative","axis":null},"y":{"datum":2.09,"type":"quantitative","axis":null}}},
   {"mark":{"type":"text","text":"Спектр","align":"left","baseline":"middle","font":"Liberation Sans","fontWeight":"bold","fontSize":21,"color":"black"},"encoding":{"x":{"datum":0.412,"type":"quantitative","axis":null},"y":{"datum":1.87,"type":"quantitative","axis":null}}},
   {"mark":{"type":"text","text":"Г","align":"left","baseline":"middle","font":"Liberation Sans","fontWeight":"bold","fontSize":13,"color":"black"},"encoding":{"x":{"datum":0.521,"type":"quantitative","axis":null},"y":{"datum":-0.58,"type":"quantitative","axis":null}}},
   {"mark":{"type":"rect","color":"#ECECEC"},"encoding":{"x":{"datum":-0.0661,"type":"quantitative","axis":null},"x2":{"datum":0.5311},"y":{"datum":2.247,"type":"quantitative","axis":null},"y2":{"datum":2.624}}},
   {"mark":{"type":"rect","color":"#FFFFFF"},"encoding":{"x":{"datum":-0.041,"type":"quantitative","axis":null},"x2":{"datum":0.16},"y":{"datum":2.27,"type":"quantitative","axis":null},"y2":{"datum":2.6}}},
   {"mark":{"type":"text","text":"Ш·","align":"left","baseline":"middle","font":"DejaVu Sans","fontSize":17,"color":"#800080"},"encoding":{"x":{"datum":-0.062,"type":"quantitative","axis":null},"y":{"datum":2.435,"type":"quantitative","axis":null}}},
   {"mark":{"type":"text","text":"А М,","align":"left","baseline":"middle","font":"DejaVu Sans","fontSize":17,"color":"#800080"},"encoding":{"x":{"datum":0.036,"type":"quantitative","axis":null},"y":{"datum":2.435,"type":"quantitative","axis":null}}},
   {"mark":{"type":"text","text":"диагноз: ПОСЛЕ СТЕНТИР *","align":"left","baseline":"middle","font":"DejaVu Sans","fontSize":18.5,"color":"#800080"},"encoding":{"x":{"datum":0.164,"type":"quantitative","axis":null},"y":{"datum":2.435,"type":"quantitative","axis":null}}},
   {"mark":{"type":"text","text":["2. Показатели Ркг:","RR=0,911 c; SDNN=0,022c; ARA=0, 026 c;","σl =0,009 c; σm= 0,015 c; σs=0,017 c;","VLF%= 58,1%; LF%=15, 3%; HF%= 26,6%"],"lineHeight":29,"align":"left","baseline":"middle","font":"Liberation Serif","fontSize":26.5,"color":"black"},"encoding":{"x":{"datum":0.5603,"type":"quantitative","axis":null},"y":{"datum":2.419,"type":"quantitative","axis":null}}}
  ]}
],
"spacing":43,
"bounds":"flush"
}
